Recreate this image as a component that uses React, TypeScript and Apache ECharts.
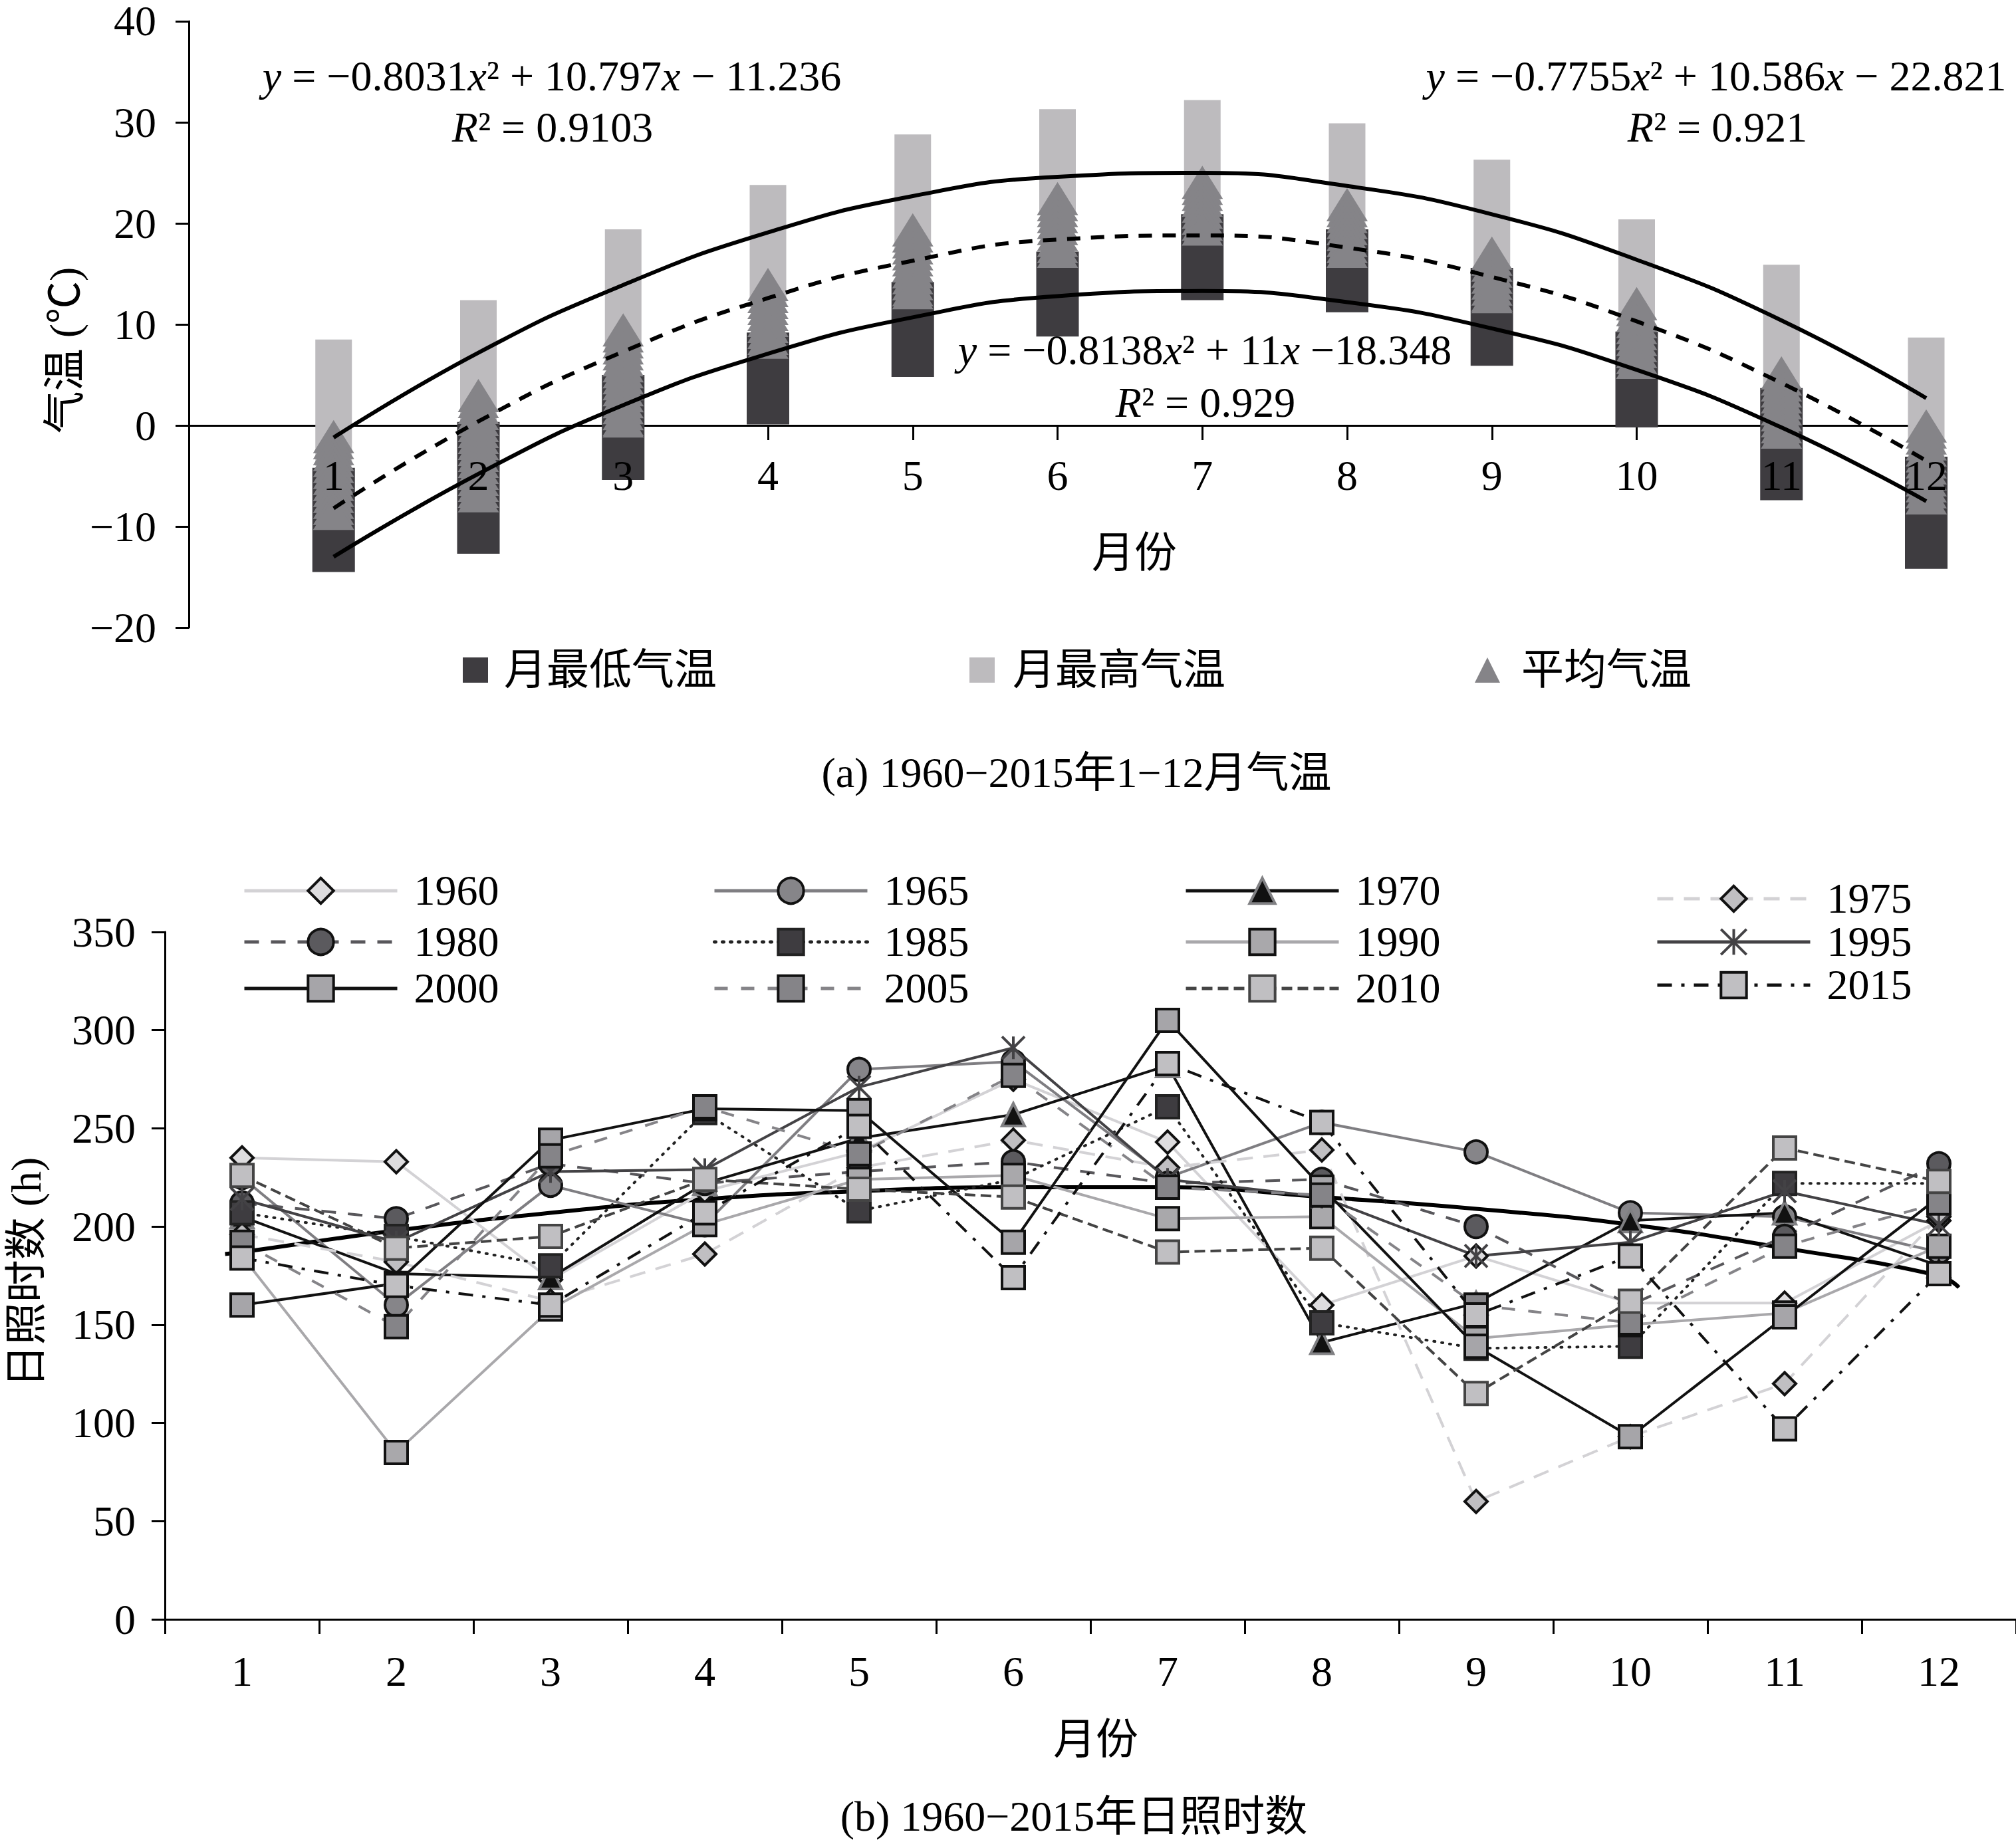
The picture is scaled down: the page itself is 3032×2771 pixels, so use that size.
import React, { useEffect, useRef } from 'react';
import * as echarts from 'echarts';

const FONT = "'Liberation Serif', 'Times New Roman', 'Noto Sans CJK SC', serif";

// ---------- (a) monthly temperature ----------
const tMonths = [1, 2, 3, 4, 5, 6, 7, 8, 9, 10, 11, 12];
const maxTempHigh = [8.5, 12.4, 19.4, 23.8, 28.8, 31.3, 32.2, 29.9, 26.3, 20.4, 15.9, 8.7];
const maxTempLow = [-4, 0, 6, 12, 17, 21, 20, 18, 15, 9, 3, -3];
const minTempHigh = [-4.2, 0.35, 5.0, 9.2, 14.2, 17.2, 20.9, 19.4, 15.6, 9.3, 3.7, -3.1];
const minTempLow = [-14.5, -12.7, -5.4, 0.1, 4.8, 8.8, 12.4, 11.2, 5.9, -0.2, -7.4, -14.2];
const meanTempHigh = [0.55, 4.6, 11.1, 15.6, 21.0, 24.1, 25.7, 23.5, 18.7, 13.7, 6.85, 1.6];
const meanTempLow = [-10.35, -8.6, -1.2, 6.6, 11.5, 15.6, 17.8, 15.6, 11.1, 4.6, -2.3, -8.8];
const maxFit = [-1.2, 7.2, 13.9, 19.1, 22.7, 24.6, 25.0, 23.7, 20.9, 16.4, 10.4, 2.7];
const meanFit = [-8.2, 0.4, 7.3, 12.6, 16.3, 18.4, 18.8, 17.6, 14.7, 10.3, 4.2, -3.5];
const minFit = [-13.0, -4.8, 2.0, 7.1, 10.7, 12.8, 13.3, 12.2, 9.6, 5.5, -0.2, -7.5];

// ---------- (b) sunshine hours ----------
const sMonths = ['1', '2', '3', '4', '5', '6', '7', '8', '9', '10', '11', '12'];
const years = ['1960', '1965', '1970', '1975', '1980', '1985', '1990', '1995', '2000', '2005', '2010', '2015'];
const s1960 = [235, 233, 173, 218, 238, 275, 243, 160, 185, 161, 161, 203];
const s1965 = [225, 160, 221, 201, 280, 284, 225, 253, 238, 207, 205, 187];
const s1970 = [205, 176, 174, 222, 245, 257, 282, 141, 161, 203, 207, 180];
const s1975 = [196, 182, 162, 186, 230, 244, 230, 239, 60, 93, 120, 205];
const s1980 = [212, 204, 232, 222, 228, 233, 222, 224, 200, 160, 195, 232];
const s1985 = [207, 195, 180, 258, 208, 224, 261, 151, 138, 139, 222, 222];
const s1990 = [185, 85, 158, 201, 224, 226, 204, 205, 143, 150, 156, 190];
const s1995 = [214, 192, 228, 229, 271, 291, 224, 215, 185, 192, 218, 201];
const s2000 = [160, 171, 244, 260, 259, 192, 305, 220, 139, 93, 154, 215];
const s2005 = [192, 149, 236, 261, 237, 277, 220, 216, 160, 151, 190, 212];
const s2010 = [226, 189, 195, 224, 219, 215, 187, 189, 115, 162, 240, 223];
const s2015 = [184, 170, 160, 207, 251, 174, 283, 253, 155, 185, 97, 176];
const sunSeries = [s1960, s1965, s1970, s1975, s1980, s1985, s1990, s1995, s2000, s2005, s2010, s2015];
const trendX = [0.89, 1, 2, 3, 4, 5, 6, 7, 8, 9, 10, 11, 12, 12.13];
const trendY = [186, 187, 198, 207, 214, 218, 220, 220, 215, 209, 201, 189, 175, 169];

const ASTERISK = 'path://M0,0L20,20M20,0L0,20M10,0L10,20';

const yearStyle: any[] = [
  { line: '#d3d2d5', dash: 'solid', symbol: 'diamond', fill: '#dddcde', border: '#111' },
  { line: '#7f7e82', dash: 'solid', symbol: 'circle', fill: '#868589', border: '#111' },
  { line: '#111111', dash: 'solid', symbol: 'triangle', fill: '#111111', border: '#808083' },
  { line: '#d3d2d5', dash: [24, 16], symbol: 'diamond', fill: '#c0bfc2', border: '#111' },
  { line: '#58575b', dash: [22, 18], symbol: 'circle', fill: '#5b5a5e', border: '#111' },
  { line: '#222222', dash: [2, 10], symbol: 'rect', fill: '#3e3c40', border: '#222', cap: 'round' },
  { line: '#a9a8ab', dash: 'solid', symbol: 'rect', fill: '#a9a8ab', border: '#111' },
  { line: '#434245', dash: 'solid', symbol: ASTERISK, fill: '#434245', border: '#434245' },
  { line: '#111111', dash: 'solid', symbol: 'rect', fill: '#a6a5a9', border: '#111' },
  { line: '#858488', dash: [20, 20], symbol: 'rect', fill: '#858488', border: '#111' },
  { line: '#444444', dash: [16, 8], symbol: 'rect', fill: '#c0bfc2', border: '#444' },
  { line: '#111111', dash: [22, 14, 5, 14], symbol: 'rect', fill: '#c0bfc2', border: '#111' },
];

const minus = (v: number) => (v < 0 ? '\u2212' + Math.abs(v) : String(v));

function rectRender(width: number, color: string) {
  return (params: any, api: any) => {
    const x = api.value(0);
    const p1 = api.coord([x, api.value(2)]);
    const p2 = api.coord([x, api.value(1)]);
    return {
      type: 'rect',
      shape: { x: p1[0] - width / 2, y: p1[1], width, height: p2[1] - p1[1] },
      style: { fill: color },
    };
  };
}

function triRender(params: any, api: any) {
  const x = api.value(0);
  const top = api.coord([x, api.value(2)]);
  const bot = api.coord([x, api.value(1)]);
  const w = 62;
  const h = 50;
  const step = 9;
  const span = bot[1] - top[1];
  const n = Math.max(0, Math.ceil((span - h) / step));
  const children: any[] = [];
  for (let i = 0; i <= n; i++) {
    const ay = top[1] + Math.min(i * step, Math.max(0, span - h));
    children.push({
      type: 'polygon',
      shape: { points: [[top[0], ay], [top[0] + w / 2, ay + h], [top[0] - w / 2, ay + h]] },
      style: { fill: '#858488' },
    });
  }
  return { type: 'group', children };
}

function txt(text: string, x: number, y: number, extra: any = {}) {
  return {
    type: 'text',
    x,
    y,
    rotation: extra.rotation || 0,
    silent: true,
    style: {
      text,
      fontSize: 64,
      fontFamily: FONT,
      fill: '#000',
      textAlign: 'center',
      textVerticalAlign: 'middle',
      rich: {
        i: { fontStyle: 'italic', fontSize: 64, fontFamily: FONT, fill: '#000' },
      },
    },
  };
}

function buildOption() {
  const axisLineStyle = { color: '#000', width: 3 };
  const labelStyle = { fontSize: 64, fontFamily: FONT, color: '#000' };

  const topSeries: any[] = [
    {
      type: 'custom', name: '月最高气温', xAxisIndex: 0, yAxisIndex: 0, silent: true,
      itemStyle: { color: '#bdbbbe' }, encode: { x: 0, y: [1, 2] },
      data: tMonths.map((m, i) => [m, maxTempLow[i], maxTempHigh[i]]),
      renderItem: rectRender(55, '#bdbbbe'),
    },
    {
      type: 'custom', name: '月最低气温', xAxisIndex: 0, yAxisIndex: 0, silent: true,
      itemStyle: { color: '#3e3c40' }, encode: { x: 0, y: [1, 2] },
      data: tMonths.map((m, i) => [m, minTempLow[i], minTempHigh[i]]),
      renderItem: rectRender(64, '#3e3c40'),
    },
    {
      type: 'custom', name: '平均气温', xAxisIndex: 0, yAxisIndex: 0, silent: true,
      itemStyle: { color: '#858488' }, encode: { x: 0, y: [1, 2] },
      data: tMonths.map((m, i) => [m, meanTempLow[i], meanTempHigh[i]]),
      renderItem: triRender,
    },
  ];
  const fits = [
    { name: 'fitMax', data: maxFit, type: 'solid' },
    { name: 'fitMean', data: meanFit, type: [20, 16] },
    { name: 'fitMin', data: minFit, type: 'solid' },
  ];
  fits.forEach((f) => {
    topSeries.push({
      type: 'line', name: f.name, xAxisIndex: 0, yAxisIndex: 0, silent: true,
      smooth: true, symbol: 'none', z: 5,
      lineStyle: { color: '#000', width: 6, type: f.type },
      data: tMonths.map((m, i) => [m, f.data[i]]),
    });
  });

  const bottomSeries: any[] = [
    {
      type: 'line', name: 'trend', xAxisIndex: 3, yAxisIndex: 1, silent: true,
      smooth: true, symbol: 'none',
      lineStyle: { color: '#000', width: 6 },
      data: trendX.map((x, i) => [x, trendY[i]]),
    },
  ];
  years.forEach((y, k) => {
    const st = yearStyle[k];
    bottomSeries.push({
      type: 'line', name: y, xAxisIndex: 2, yAxisIndex: 1, silent: true,
      symbol: st.symbol, symbolSize: 34, showAllSymbol: true,
      lineStyle: { color: st.line, width: 4, type: st.dash, cap: st.cap || 'butt' },
      itemStyle: { color: st.fill, borderColor: st.border, borderWidth: 4 },
      emphasis: { disabled: true },
      data: sunSeries[k],
    });
  });

  const topLegendDefs = [
    { name: '月最低气温', left: 696, icon: 'rect', pad: 19 },
    { name: '月最高气温', left: 1458, icon: 'rect', pad: 22 },
    { name: '平均气温', left: 2218, icon: 'triangle', pad: 27 },
  ];
  const legends: any[] = topLegendDefs.map((d) => ({
    data: [{ name: d.name, icon: d.icon }],
    left: d.left, top: 1007 - 31, padding: 0, selectedMode: false,
    itemWidth: 38, itemHeight: 38,
    textStyle: { fontSize: 64, fontFamily: FONT, color: '#000', lineHeight: 48, padding: [0, 0, 0, d.pad] },
  }));
  const legendCols = [365, 1072, 1781, 2490];
  const legendRowY = [
    [1340, 1417, 1487],
    [1340, 1417, 1487],
    [1340, 1417, 1487],
    [1352, 1417, 1482],
  ];
  years.forEach((y, k) => {
    const col = k % 4;
    const row = Math.floor(k / 4);
    legends.push({
      data: [y],
      left: legendCols[col], top: legendRowY[col][row] - 32, padding: 0, selectedMode: false,
      itemWidth: 230, itemHeight: 48,
      lineStyle: { width: 5 },
      itemStyle: { borderWidth: 4 },
      textStyle: { fontSize: 64, fontFamily: FONT, color: '#000', lineHeight: 48, padding: [0, 0, 0, 20] },
    });
  });

  const graphic: any[] = [
    txt('气温 (℃)', 97, 527, { rotation: Math.PI / 2 }),
    txt('月份', 1706, 831),
    txt('{i|y} = \u22120.8031{i|x}² + 10.797{i|x} \u2212 11.236', 830, 114),
    txt('{i|R}² = 0.9103', 831, 191),
    txt('{i|y} = \u22120.7755{i|x}² + 10.586{i|x} \u2212 22.821', 2581, 114),
    txt('{i|R}² = 0.921', 2583, 191),
    txt('{i|y} = \u22120.8138{i|x}² + 11{i|x} \u221218.348', 1812, 526),
    txt('{i|R}² = 0.929', 1813, 605),
    txt('(a) 1960\u22122015年1\u221212月气温', 1619, 1162),
    txt('日照时数 (h)', 39, 1914, { rotation: Math.PI / 2 }),
    txt('月份', 1648, 2616),
    txt('(b) 1960\u22122015年日照时数', 1615, 2732),
  ];

  return {
    animation: false,
    backgroundColor: '#fff',
    textStyle: { fontFamily: FONT },
    grid: [
      { left: 284, top: 25, width: 2613, height: 919 },
      { left: 248, top: 1402, width: 2794, height: 1034 },
    ],
    xAxis: [
      {
        gridIndex: 0, type: 'value', min: 0, max: 12, interval: 1, z: 0,
        axisLine: { show: true, onZero: true, lineStyle: axisLineStyle },
        axisTick: { show: true, length: 22, lineStyle: axisLineStyle },
        axisLabel: { show: false }, splitLine: { show: false },
      },
      {
        gridIndex: 0, type: 'value', min: 0, max: 12, interval: 1, z: 10,
        position: 'bottom', offset: -306.3,
        axisLine: { show: false, onZero: false }, axisTick: { show: false },
        axisLabel: { ...labelStyle, margin: 46, formatter: (v: number) => (v === 0 ? '' : String(v)) },
        splitLine: { show: false },
      },
      {
        gridIndex: 1, type: 'category', data: sMonths, boundaryGap: true,
        axisLine: { show: true, onZero: false, lineStyle: axisLineStyle },
        axisTick: { show: true, length: 22, lineStyle: axisLineStyle },
        axisLabel: { ...labelStyle, margin: 46 }, splitLine: { show: false },
      },
      { gridIndex: 1, type: 'value', min: 0.5, max: 12.5, show: false },
    ],
    yAxis: [
      {
        gridIndex: 0, type: 'value', min: -20, max: 40, interval: 10,
        axisLine: { show: true, onZero: false, lineStyle: axisLineStyle },
        axisTick: { show: true, length: 20, lineStyle: axisLineStyle },
        axisLabel: { ...labelStyle, lineHeight: 44, margin: 49, formatter: minus }, splitLine: { show: false },
      },
      {
        gridIndex: 1, type: 'value', min: 0, max: 350, interval: 50,
        axisLine: { show: true, onZero: false, lineStyle: axisLineStyle },
        axisTick: { show: true, length: 20, lineStyle: axisLineStyle },
        axisLabel: { ...labelStyle, lineHeight: 44, margin: 44 }, splitLine: { show: false },
      },
    ],
    legend: legends,
    graphic,
    series: [...topSeries, ...bottomSeries],
  };
}

export default function App() {
  const ref = useRef<HTMLDivElement>(null);
  useEffect(() => {
    document.body.style.margin = '0';
    const chart = echarts.init(ref.current as HTMLDivElement, null, { renderer: 'svg' });
    chart.setOption(buildOption() as any);
    return () => chart.dispose();
  }, []);
  return (
    <div
      ref={ref}
      style={{ position: 'absolute', left: 0, top: 0, width: 3032, height: 2771, background: '#fff' }}
    />
  );
}
